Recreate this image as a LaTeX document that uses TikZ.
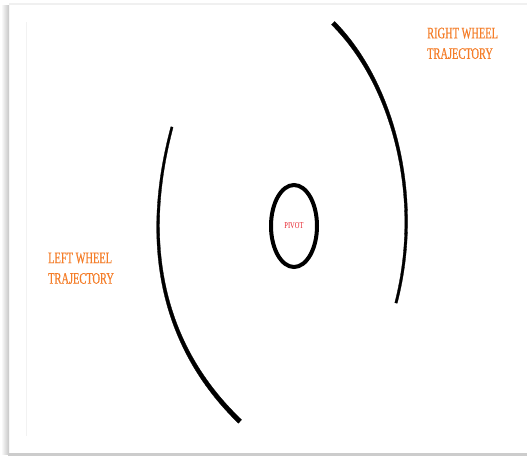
\documentclass[tikz,border=0pt]{standalone}
\usepackage{fontspec}
\setmainfont{Liberation Serif}
\newfontfamily\narrowserif[FakeStretch=0.65,FakeBold=0.4]{Liberation Serif}
\newfontfamily\pivotserif[FakeStretch=0.72]{Liberation Serif}
\usetikzlibrary{shapes.geometric}
\definecolor{labelorange}{RGB}{245,125,40}
\definecolor{pivotred}{RGB}{230,30,40}
\tikzset{
  trajectory/.style={fill=black, draw=black, line width=0.3pt, line join=round},
  wheellabel/.style={text=labelorange, font=\narrowserif\fontsize{16}{20.5}\selectfont, align=left, anchor=north west, inner sep=0pt},
  pivotnode/.style={ellipse, draw, line width=4pt, minimum width=46pt, minimum height=82pt, inner sep=0pt, text=pivotred, font=\pivotserif\fontsize{9}{10}\selectfont}
}
\begin{document}
\begin{tikzpicture}[x=1pt,y=-1pt]
\useasboundingbox (0,0) rectangle (527,456);
\fill[white] (0,0) rectangle (527,456);
% page shadow
\shade[left color=white, right color=gray!45] (1,5) rectangle (9,454);
\fill[gray!12] (9,3) rectangle (527,5);
\fill[gray!40] (8,453) rectangle (527,455.5);
\draw[gray!10, line width=0.8pt] (26,22) -- (26,436);
% left trajectory (tapered: thin at top, thick at bottom)
\filldraw[trajectory] (173.1,127.3) .. controls (142.5,243) and (162.7,344.5) .. (241.6,419.8)
  -- (238.4,423.2) .. controls (159.3,346.5) and (139.5,243) .. (170.9,126.7) -- cycle;
% right trajectory (tapered: thick at top, thin at bottom)
\filldraw[trajectory] (331.4,24.6) .. controls (391.5,84.1) and (422,196.5) .. (394.8,302.7)
  -- (397.2,303.3) .. controls (425,196.5) and (394.5,81.9) .. (334.6,21.4) -- cycle;
% pivot
\node[pivotnode] (pivot) at (294,226) {PIVOT};
% labels
\node[wheellabel] (right) at (427,27.5) {RIGHT WHEEL\\TRAJECTORY};
\node[wheellabel] (left) at (48,252.5) {LEFT WHEEL\\TRAJECTORY};
\end{tikzpicture}
\end{document}
